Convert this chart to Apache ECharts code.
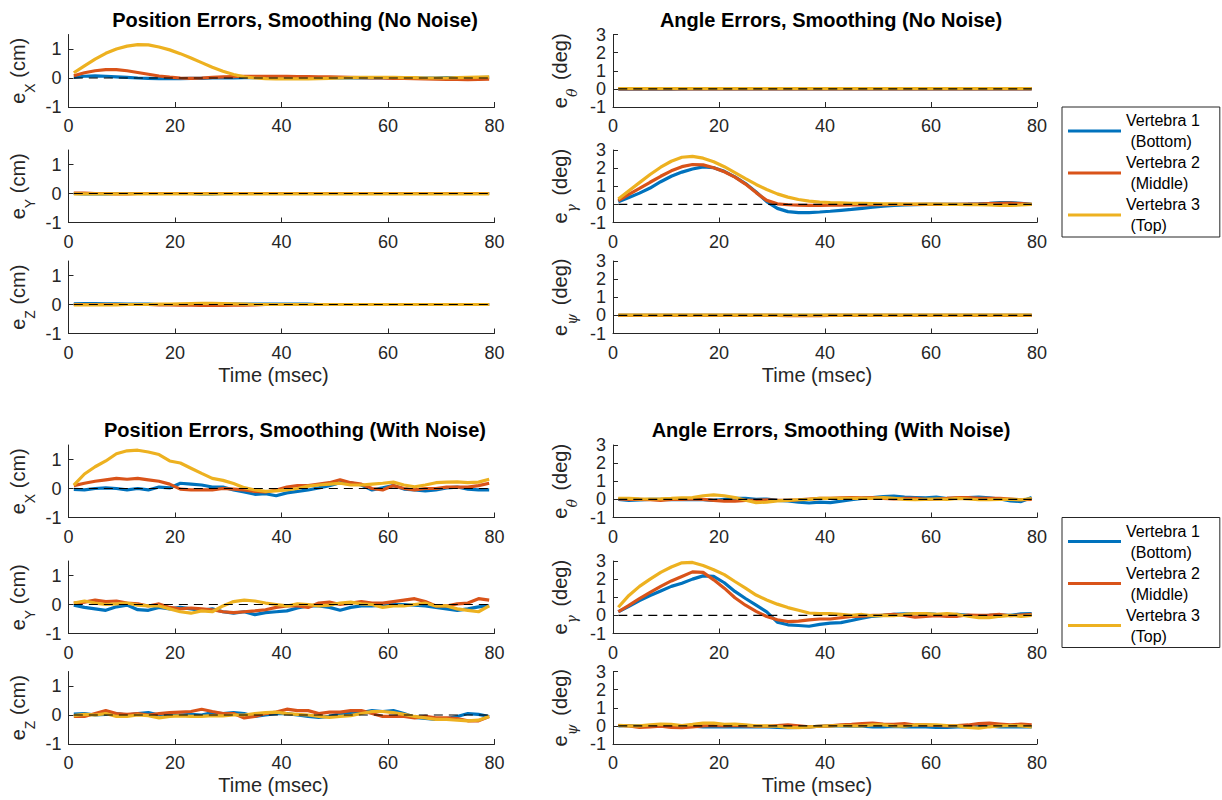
<!DOCTYPE html>
<html><head><meta charset="utf-8">
<script src="https://cdn.jsdelivr.net/npm/echarts@6/dist/echarts.min.js"></script>
<style>html,body{margin:0;padding:0;background:#fff}#c{width:1222px;height:800px}</style>
</head><body><div id="c"></div>
<script>
// ---------- data ----------
const T = [1,3,5,7,9,11,13,15,17,19,21,23,25,27,29,31,33,35,37,39,41,43,45,47,49,51,53,55,57,59,61,63,65,67,69,71,73,75,77,79];
const X_TICKS = [0,20,40,60,80];
const POS_TICKS = [-1,0,1];
const ANG_TICKS = [-1,0,1,2,3];
const POS_RANGE = [-1,1.5];
const ANG_RANGE = [-1,3];
const ZERO_LINE = [[1,0],[79,0]];
const NAMES = ['Vertebra 1','Vertebra 2','Vertebra 3'];
const SUBNAMES = ['(Bottom)','(Middle)','(Top)'];
const TITLES = ['Position Errors, Smoothing (No Noise)','Angle Errors, Smoothing (No Noise)','Position Errors, Smoothing (With Noise)','Angle Errors, Smoothing (With Noise)'];
const POS_LABELS = [['e','X',' (cm)'],['e','Y',' (cm)'],['e','Z',' (cm)']];
const ANG_LABELS = [['e','θ',' (deg)'],['e','γ',' (deg)'],['e','ψ',' (deg)']];
const X_LABEL = 'Time (msec)';

// No noise: position X
const nnEx1 = [0.02,0.06,0.07,0.06,0.04,0.02,0.00,-0.01,-0.02,-0.02,
 -0.02,-0.01,-0.01,0.00,0.00,0.00,0.01,0.01,0.01,0.01,
 0.01,0.01,0.00,0.00,0.00,0.00,0.00,0.00,0.00,0.00,
 0.00,0.00,0.00,0.00,0.00,0.01,0.01,0.01,0.01,0.02];
const nnEx2 = [0.08,0.18,0.25,0.29,0.29,0.25,0.19,0.13,0.07,0.03,
 0.00,-0.01,0.00,0.02,0.04,0.05,0.06,0.06,0.06,0.06,
 0.06,0.05,0.05,0.04,0.04,0.03,0.02,0.01,0.00,0.00,
 -0.01,-0.01,-0.02,-0.03,-0.04,-0.05,-0.05,-0.06,-0.05,-0.04];
const nnEx3 = [0.18,0.42,0.65,0.85,1.00,1.10,1.15,1.14,1.07,0.97,
 0.84,0.69,0.53,0.37,0.23,0.12,0.04,0.00,-0.02,-0.03,
 -0.03,-0.03,-0.03,-0.02,-0.01,0.00,0.01,0.02,0.02,0.02,
 0.02,0.01,0.01,0.00,0.00,0.00,0.01,0.02,0.03,0.04];
// No noise: position Y
const nnEy1 = [0.00,-0.01,-0.01,-0.01,0.00,0.00,0.00,0.00,0.00,0.00,
 0.00,0.00,-0.01,-0.01,0.00,0.00,0.00,0.00,0.00,0.00,
 0.00,0.00,0.00,0.00,0.00,0.00,0.00,0.00,0.00,0.00,
 0.00,0.00,0.00,0.00,0.00,0.00,0.00,0.00,0.00,0.00];
const nnEy2 = [0.01,0.01,0.00,0.00,-0.01,-0.01,0.00,0.00,0.00,0.00,
 0.00,0.00,0.00,0.00,0.00,0.00,0.00,0.00,0.00,0.00,
 0.00,0.00,0.00,0.00,0.00,0.00,0.00,0.00,0.00,0.00,
 0.00,0.00,0.00,0.00,0.00,0.00,0.00,0.00,0.00,0.00];
const nnEy3 = [-0.01,-0.01,-0.01,-0.01,-0.01,-0.01,-0.01,-0.01,-0.01,-0.01,
 -0.01,-0.01,-0.01,-0.01,-0.01,-0.01,-0.01,-0.01,-0.01,-0.01,
 -0.01,-0.01,-0.01,-0.01,-0.01,-0.01,-0.01,-0.01,-0.01,-0.01,
 -0.01,-0.01,-0.01,-0.01,-0.01,-0.01,-0.01,-0.01,-0.01,-0.01];
// No noise: position Z
const nnEz1 = [0.02,0.03,0.03,0.02,0.02,0.01,0.01,0.01,0.00,0.00,
 0.00,0.00,0.00,0.00,0.00,0.01,0.01,0.01,0.01,0.01,
 0.01,0.01,0.01,0.00,0.00,0.00,0.00,0.00,0.00,0.00,
 0.00,0.00,0.00,0.00,0.00,0.00,0.00,0.00,0.00,0.00];
const nnEz2 = [0.00,0.00,0.00,0.00,0.00,0.00,0.00,0.00,-0.01,-0.01,
 -0.02,-0.02,-0.03,-0.03,-0.03,-0.02,-0.02,-0.01,0.00,0.00,
 0.00,0.00,0.00,0.00,0.00,0.00,0.00,0.00,0.00,0.00,
 0.00,0.00,0.00,0.00,0.00,0.00,0.00,0.00,0.00,0.00];
const nnEz3 = [-0.01,-0.01,-0.01,-0.01,-0.01,0.00,0.00,0.00,0.01,0.01,
 0.02,0.03,0.04,0.04,0.03,0.02,0.01,0.00,0.00,0.00,
 0.00,0.00,0.00,0.00,0.00,0.00,0.00,0.00,0.00,0.00,
 0.00,0.00,0.00,0.00,0.00,0.00,0.00,0.00,0.00,0.00];
// No noise: angle theta
const nnAt1 = [-0.02,-0.02,-0.02,-0.01,-0.01,-0.01,0.00,0.00,0.00,0.00,
 0.00,0.00,0.00,0.00,0.00,0.00,0.00,0.00,0.00,0.00,
 0.00,0.00,0.00,0.00,0.00,0.00,0.00,0.00,0.00,0.00,
 0.00,0.00,0.00,0.00,0.00,0.00,0.00,0.00,0.00,0.00];
const nnAt2 = [0.00,0.00,0.00,0.00,0.00,0.00,0.00,0.00,0.00,0.00,
 0.00,0.00,0.00,0.00,0.00,0.00,0.00,0.00,0.00,0.00,
 0.00,0.00,0.00,0.00,0.00,0.00,0.00,0.00,0.00,0.00,
 0.00,0.00,0.00,0.00,0.00,0.00,0.00,0.00,0.00,0.00];
const nnAt3 = [0.02,0.02,0.02,0.02,0.02,0.02,0.02,0.02,0.02,0.02,
 0.02,0.02,0.02,0.02,0.02,0.02,0.02,0.02,0.02,0.02,
 0.02,0.02,0.02,0.02,0.02,0.02,0.02,0.02,0.02,0.02,
 0.02,0.02,0.02,0.02,0.02,0.02,0.02,0.02,0.02,0.02];
// No noise: angle gamma
const nnAg1 = [0.15,0.38,0.62,0.90,1.25,1.55,1.78,1.95,2.07,2.02,
 1.82,1.52,1.15,0.68,0.15,-0.22,-0.40,-0.46,-0.45,-0.42,
 -0.38,-0.33,-0.28,-0.22,-0.16,-0.10,-0.06,-0.03,-0.01,0.00,
 0.00,0.00,0.00,0.01,0.03,0.06,0.10,0.10,0.05,0.00];
const nnAg2 = [0.20,0.55,0.88,1.22,1.55,1.85,2.08,2.20,2.18,2.02,
 1.80,1.50,1.12,0.65,0.22,0.03,-0.02,-0.04,-0.05,-0.05,
 -0.04,-0.04,-0.03,-0.03,-0.02,-0.01,0.00,0.00,0.00,0.00,
 0.00,0.00,0.00,0.01,0.02,0.04,0.06,0.07,0.04,0.00];
const nnAg3 = [0.30,0.75,1.20,1.65,2.05,2.38,2.60,2.65,2.55,2.35,
 2.08,1.75,1.42,1.10,0.82,0.58,0.40,0.27,0.18,0.13,
 0.10,0.08,0.06,0.05,0.04,0.03,0.03,0.02,0.02,0.01,
 0.01,0.00,0.00,-0.01,-0.02,-0.03,-0.05,-0.05,-0.03,0.00];
// No noise: angle psi
const nnAp1 = [0.00,0.00,0.00,0.00,0.00,0.00,0.00,0.00,0.00,0.00,
 0.00,0.00,0.00,0.00,0.00,0.00,0.00,0.00,0.00,0.00,
 0.00,0.00,0.00,0.00,0.00,0.00,0.00,0.00,0.00,0.00,
 0.00,0.00,0.00,0.00,0.00,0.00,0.00,0.00,0.00,0.00];
const nnAp2 = [0.00,0.00,0.00,0.00,0.00,0.00,0.00,0.00,0.00,0.00,
 0.00,0.00,0.00,0.00,0.00,0.00,-0.01,-0.02,-0.02,-0.01,
 0.00,0.00,0.00,0.00,0.00,0.00,0.00,0.00,0.00,0.00,
 0.00,0.00,0.00,0.00,0.00,0.00,0.00,0.00,0.00,0.00];
const nnAp3 = [0.01,0.01,0.01,0.01,0.01,0.01,0.01,0.01,0.01,0.01,
 0.01,0.01,0.01,0.01,0.01,0.01,0.01,0.01,0.01,0.01,
 0.01,0.01,0.01,0.01,0.01,0.01,0.01,0.01,0.01,0.01,
 0.01,0.01,0.01,0.01,0.01,0.01,0.01,0.01,0.01,0.01];

// With noise: position X
const wnEx1 = [-0.03,-0.05,0.00,0.02,0.00,-0.05,0.00,-0.05,0.05,0.02,
 0.18,0.15,0.12,0.05,0.05,-0.05,-0.12,-0.20,-0.18,-0.25,
 -0.15,-0.10,-0.05,0.02,0.10,0.20,0.20,0.12,-0.05,0.02,
 0.10,-0.02,-0.05,-0.08,-0.05,0.02,0.05,-0.02,-0.05,-0.05];
const wnEx2 = [0.10,0.18,0.25,0.30,0.35,0.32,0.35,0.30,0.25,0.15,
 -0.02,-0.05,-0.05,-0.05,0.00,-0.02,-0.05,-0.10,-0.12,-0.05,
 0.05,0.10,0.10,0.15,0.20,0.30,0.20,0.15,0.00,-0.05,
 0.10,0.00,-0.05,0.00,0.00,0.05,0.05,0.05,0.10,0.18];
const wnEx3 = [0.12,0.50,0.75,0.95,1.20,1.30,1.32,1.26,1.17,0.95,
 0.88,0.70,0.52,0.35,0.28,0.17,0.03,-0.05,-0.10,-0.08,
 -0.05,0.00,0.08,0.12,0.15,0.18,0.12,0.12,0.15,0.18,
 0.22,0.12,0.06,0.12,0.20,0.22,0.23,0.20,0.22,0.32];
// With noise: position Y
const wnEy1 = [-0.02,-0.10,-0.15,-0.20,-0.08,-0.02,-0.18,-0.20,-0.10,-0.15,
 -0.10,-0.15,-0.20,-0.15,-0.25,-0.30,-0.25,-0.35,-0.28,-0.25,
 -0.22,-0.12,-0.05,-0.05,-0.10,-0.20,-0.10,-0.05,-0.05,-0.02,
 0.00,0.00,-0.02,-0.05,-0.10,-0.15,-0.20,-0.15,-0.08,-0.05];
const wnEy2 = [0.05,0.08,0.15,0.10,0.12,0.05,0.02,-0.05,0.02,-0.10,
 -0.15,-0.12,-0.15,-0.18,-0.25,-0.28,-0.25,-0.22,-0.18,-0.10,
 -0.05,-0.05,-0.10,0.05,0.08,0.00,0.05,0.10,0.05,0.05,
 0.10,0.15,0.20,0.10,-0.05,-0.05,0.02,0.05,0.20,0.15];
const wnEy3 = [0.05,0.12,0.05,0.00,0.02,0.05,-0.02,-0.05,-0.05,-0.15,
 -0.25,-0.30,-0.22,-0.25,-0.05,0.10,0.15,0.12,0.05,0.00,
 -0.05,0.02,0.00,-0.05,-0.02,0.05,0.08,0.02,0.00,-0.10,
 -0.05,-0.05,0.00,0.05,-0.05,-0.05,-0.15,-0.20,-0.25,-0.05];
// With noise: position Z
const wnEz1 = [0.03,0.05,0.00,0.02,0.05,0.00,0.05,0.08,0.00,-0.02,
 0.00,0.02,0.00,0.08,0.05,0.08,0.05,-0.05,0.00,0.05,
 0.05,0.00,-0.05,-0.08,-0.05,0.05,0.10,0.08,0.15,0.12,
 0.15,0.05,-0.08,-0.12,-0.15,-0.12,-0.05,0.05,0.02,-0.05];
const wnEz2 = [-0.05,-0.05,0.05,0.15,0.05,0.02,0.05,0.00,0.05,0.08,
 0.10,0.12,0.20,0.12,0.05,0.05,-0.10,-0.05,0.05,0.10,
 0.20,0.15,0.15,0.05,0.10,0.10,0.15,0.15,0.05,-0.05,
 -0.05,-0.05,-0.10,-0.05,-0.10,-0.10,-0.12,-0.20,-0.20,-0.05];
const wnEz3 = [-0.02,0.02,0.00,0.05,-0.05,-0.05,0.00,-0.02,-0.10,-0.05,
 -0.03,-0.05,-0.05,-0.02,-0.03,0.00,0.00,0.05,0.08,0.10,
 0.05,0.02,0.00,-0.05,-0.08,-0.05,-0.02,0.05,0.12,0.12,
 0.08,0.02,-0.05,-0.10,-0.15,-0.15,-0.18,-0.20,-0.18,-0.05];
// With noise: angle theta
const wnAt1 = [0.00,-0.05,-0.03,0.00,0.00,-0.02,0.00,-0.02,-0.02,-0.05,
 0.00,0.05,0.05,0.00,0.02,-0.05,-0.08,-0.15,-0.20,-0.15,
 -0.18,-0.10,-0.02,0.05,0.10,0.15,0.18,0.12,0.10,0.08,
 0.12,0.05,0.05,0.10,0.12,0.08,0.02,-0.08,-0.12,0.10];
const wnAt2 = [0.02,0.00,0.00,-0.02,-0.05,0.00,0.00,0.02,0.00,-0.05,
 -0.10,-0.10,-0.05,-0.05,-0.02,-0.05,-0.05,-0.02,0.02,0.05,
 0.05,0.08,0.10,0.08,0.10,0.05,0.02,0.05,0.05,0.00,
 0.02,0.05,0.10,0.10,0.05,0.05,0.05,0.02,-0.02,0.00];
const wnAt3 = [0.05,0.05,0.03,0.02,0.03,0.05,0.08,0.10,0.20,0.25,
 0.20,0.10,-0.05,-0.18,-0.15,-0.08,-0.05,-0.02,0.00,0.05,
 0.05,0.05,0.05,0.05,0.05,0.10,0.05,0.00,-0.02,0.00,
 0.02,0.00,0.05,0.02,-0.02,-0.02,0.00,0.00,-0.02,0.05];
// With noise: angle gamma
const wnAg1 = [0.20,0.50,0.82,1.10,1.35,1.60,1.77,2.00,2.18,2.15,
 1.80,1.32,0.93,0.56,0.19,-0.37,-0.52,-0.56,-0.60,-0.50,
 -0.43,-0.40,-0.28,-0.15,-0.05,0.00,0.05,0.08,0.08,0.10,
 0.05,0.02,0.05,0.00,-0.05,0.00,0.02,0.00,0.08,0.10];
const wnAg2 = [0.20,0.55,0.93,1.27,1.60,1.90,2.15,2.40,2.37,1.96,
 1.50,0.97,0.56,0.22,-0.06,-0.24,-0.34,-0.32,-0.25,-0.20,
 -0.20,-0.13,-0.06,-0.04,0.00,0.02,0.05,0.00,-0.10,-0.05,
 -0.02,-0.05,-0.05,0.02,0.00,0.02,0.05,-0.02,0.02,0.05];
const wnAg3 = [0.45,1.10,1.60,2.00,2.37,2.67,2.90,2.92,2.75,2.52,
 2.25,1.87,1.50,1.12,0.85,0.62,0.43,0.28,0.13,0.10,
 0.10,0.05,0.00,0.05,-0.02,0.00,-0.02,0.05,0.10,0.10,
 0.05,0.10,0.05,-0.05,-0.12,-0.12,-0.05,0.00,-0.05,0.00];
// With noise: angle psi
const wnAp1 = [0.00,0.02,0.00,-0.02,0.00,-0.02,0.00,-0.02,-0.05,-0.05,
 -0.05,-0.05,-0.05,-0.05,-0.05,-0.08,-0.10,-0.08,-0.05,-0.02,
 0.00,0.00,-0.02,-0.02,-0.05,-0.05,-0.03,-0.05,-0.05,-0.05,
 -0.08,-0.08,-0.05,-0.05,-0.02,-0.02,-0.05,-0.05,-0.05,-0.05];
const wnAp2 = [0.02,0.00,-0.08,-0.05,-0.02,-0.08,-0.10,-0.05,0.00,0.02,
 0.00,0.02,0.00,-0.02,-0.02,0.02,0.05,0.00,-0.05,-0.02,
 0.00,0.05,0.08,0.12,0.15,0.10,0.08,0.12,0.05,0.05,
 0.02,0.00,0.02,0.05,0.12,0.15,0.10,0.05,0.10,0.05];
const wnAp3 = [0.03,0.00,0.00,0.05,0.10,0.08,0.02,0.08,0.15,0.15,
 0.08,0.10,0.05,0.00,0.00,-0.02,-0.08,-0.10,-0.05,-0.02,
 0.00,0.02,0.00,0.00,0.05,0.05,0.00,-0.02,0.05,0.05,
 0.05,0.02,0.00,-0.08,-0.12,-0.05,0.00,0.02,0.00,-0.05];

// ---------- layout / style ----------
const FONT = '"Liberation Sans", Arial, Helvetica, sans-serif';
const AX = '#262626';
const COLORS = ['#0072BD','#D95319','#EDB120'];
const COL_LEFT = [68.5, 613], COL_W = [426, 424];
const ROW_TOP = [[34.5,150,261],[445,561,671.5]];
const ROW_H = 72.5;
const TITLE_POS = [[295,20],[831,20],[295,430],[831,430]];

const panels = [
  {b:0,c:0,r:0,d:[nnEx1,nnEx2,nnEx3]},
  {b:0,c:0,r:1,d:[nnEy1,nnEy2,nnEy3]},
  {b:0,c:0,r:2,d:[nnEz1,nnEz2,nnEz3]},
  {b:0,c:1,r:0,d:[nnAt1,nnAt2,nnAt3]},
  {b:0,c:1,r:1,d:[nnAg1,nnAg2,nnAg3]},
  {b:0,c:1,r:2,d:[nnAp1,nnAp2,nnAp3]},
  {b:1,c:0,r:0,d:[wnEx1,wnEx2,wnEx3]},
  {b:1,c:0,r:1,d:[wnEy1,wnEy2,wnEy3]},
  {b:1,c:0,r:2,d:[wnEz1,wnEz2,wnEz3]},
  {b:1,c:1,r:0,d:[wnAt1,wnAt2,wnAt3]},
  {b:1,c:1,r:1,d:[wnAg1,wnAg2,wnAg3]},
  {b:1,c:1,r:2,d:[wnAp1,wnAp2,wnAp3]}
];

const grid = [], xAxis = [], yAxis = [], series = [];
panels.forEach((p, i) => {
  grid.push({left: COL_LEFT[p.c], top: ROW_TOP[p.b][p.r], width: COL_W[p.c], height: ROW_H,
             containLabel: false, outerBoundsMode: 'none'});
  const isLastRow = p.r === 2;
  xAxis.push({
    type: 'value', gridIndex: i, min: X_TICKS[0], max: X_TICKS[X_TICKS.length-1], interval: 20,
    axisLine: {show: true, onZero: false, lineStyle: {color: AX, width: 1}},
    axisTick: {show: true, inside: true, length: 5, lineStyle: {color: AX}},
    axisLabel: {show: true, fontSize: 18, color: AX, margin: 10, fontFamily: FONT},
    splitLine: {show: false},
    name: isLastRow ? X_LABEL : '', nameLocation: 'middle', nameGap: 31, nameMoveOverlap: false,
    nameTextStyle: {fontSize: 20, color: AX, fontFamily: FONT, padding: [0, 16, 0, 0]}
  });
  const ticks = p.c === 0 ? POS_TICKS : ANG_TICKS;
  const range = p.c === 0 ? POS_RANGE : ANG_RANGE;
  const lab = p.c === 0 ? POS_LABELS[p.r] : ANG_LABELS[p.r];
  yAxis.push({
    type: 'value', gridIndex: i, min: range[0], max: range[1], interval: 1,
    axisLine: {show: true, onZero: false, lineStyle: {color: AX, width: 1}},
    axisTick: {show: true, inside: true, length: 5, lineStyle: {color: AX}, customValues: ticks},
    axisLabel: {show: true, fontSize: 18, color: AX, margin: 7, fontFamily: FONT, customValues: ticks,
                formatter: v => (Number.isInteger(v) ? String(v) : '')},
    splitLine: {show: false},
    name: '{m|' + lab[0] + '}{' + (p.c === 0 ? 's' : 'g') + '|' + lab[1] + '}{m|' + lab[2] + '}',
    nameLocation: 'middle', nameRotate: 90, nameGap: p.c === 0 ? 32 : 34, nameMoveOverlap: false,
    nameTextStyle: {
      fontFamily: FONT, color: AX,
      rich: {
        m: {fontSize: 20, color: AX, fontFamily: FONT},
        s: {fontSize: 14, color: AX, fontFamily: FONT, padding: [24, 0, 0, 0]},
        g: {fontSize: 14, color: AX, fontFamily: 'DejaVu Serif, serif', fontStyle: 'italic', padding: [24, 3, 0, 0]}
      }
    }
  });
  p.d.forEach((arr, k) => {
    series.push({
      type: 'line', name: NAMES[k], xAxisIndex: i, yAxisIndex: i,
      data: T.map((t, j) => [t, arr[j]]),
      showSymbol: false, symbol: 'none', smooth: false, silent: true,
      lineStyle: {color: COLORS[k], width: 3.2}, itemStyle: {color: COLORS[k]},
      z: 2 + k
    });
  });
  series.push({
    type: 'line', name: 'zero', xAxisIndex: i, yAxisIndex: i, data: ZERO_LINE,
    showSymbol: false, symbol: 'none', silent: true,
    lineStyle: {color: '#000', width: 1.1, type: [9, 6]}, z: 10
  });
});

const legend = [107, 517.5].map(top => ({
  data: NAMES, orient: 'vertical', left: 1062, top: top,
  icon: 'rect', itemWidth: 53, itemHeight: 3, itemGap: 0,
  padding: [3, 20, 1, 6], borderColor: AX, borderWidth: 1, backgroundColor: '#fff',
  selectedMode: false,
  textStyle: {fontSize: 16, lineHeight: 21, color: '#000', fontFamily: FONT},
  formatter: n => n + '\n ' + SUBNAMES[NAMES.indexOf(n)]
}));

const graphic = TITLES.map((t, i) => ({
  type: 'text', x: TITLE_POS[i][0], y: TITLE_POS[i][1], silent: true,
  style: {text: t, fontSize: 20, fontWeight: 'bold', fontFamily: FONT, fill: '#000',
          align: 'center', verticalAlign: 'middle'}
}));

const chart = echarts.init(document.getElementById('c'), null, {renderer: 'svg', width: 1222, height: 800});
chart.setOption({
  animation: false,
  backgroundColor: '#fff',
  textStyle: {fontFamily: FONT},
  grid, xAxis, yAxis, series, legend, graphic
});
</script>
</body></html>
